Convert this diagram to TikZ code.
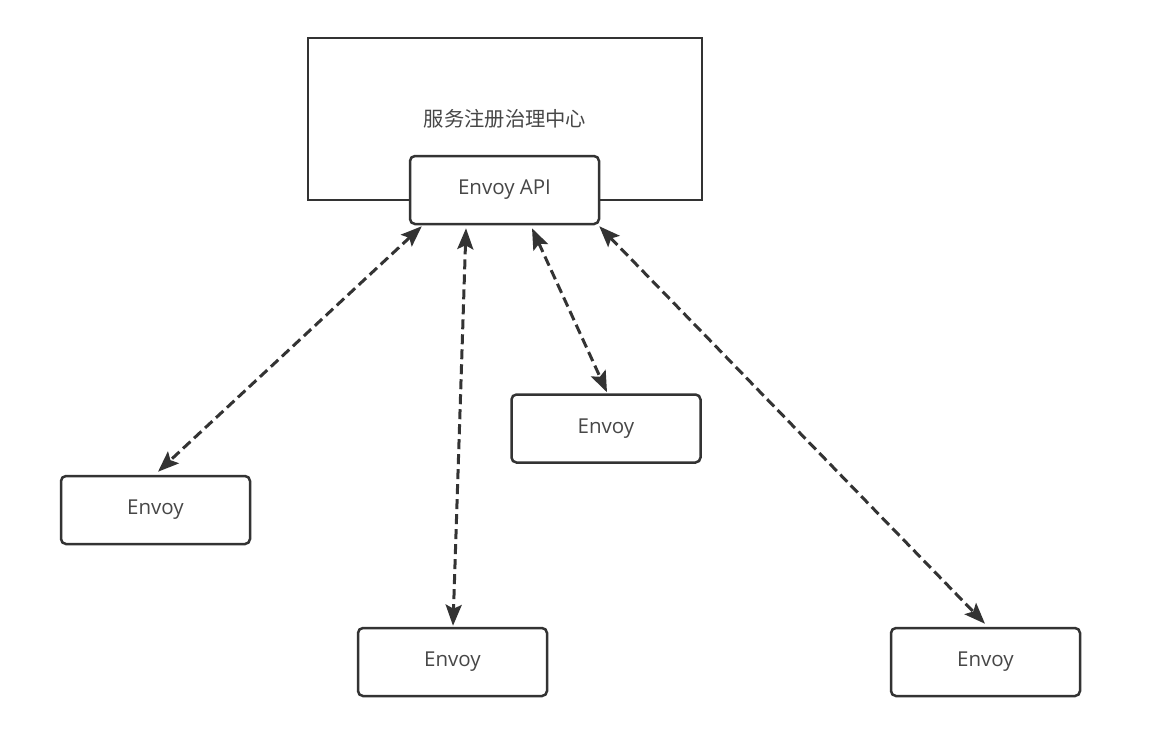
\documentclass[tikz,border=0pt]{standalone}
\usepackage{fontspec}
\setmainfont{Open Sans}
\newfontfamily\cjk{Noto Sans CJK SC}
\usetikzlibrary{arrows.meta}
\definecolor{ink}{HTML}{333333}
\tikzset{
  box/.style={draw=ink, line width=2.5pt, fill=white, minimum width=189pt, minimum height=68pt, rounded corners=5pt, inner sep=0pt, font=\fontsize{20.5}{22}\selectfont, text=ink!90},
  bigbox/.style={draw=ink, line width=2.5pt, fill=white, minimum width=394pt, minimum height=162pt, inner sep=0pt, font=\cjk\fontsize{20.3}{22}\selectfont, text=ink!90},
  link/.style={draw=ink, line width=3pt, dash pattern=on 10pt off 5pt, {Stealth[length=21pt,width=16pt,inset=4pt]}-{Stealth[length=21pt,width=16pt,inset=4pt]}, shorten >=0pt, shorten <=0pt}
}
\begin{document}
\begin{tikzpicture}[x=1pt,y=-1pt]
\useasboundingbox[fill=white] (0,0) rectangle (1176,750);
\node[bigbox] (center) at (505,119) {服务注册治理中心};
\node[box] (api) at (504.5,190) {Envoy API};
\node[box] (e1) at (155.5,510) {Envoy};
\node[box] (e2) at (452.5,662) {Envoy};
\node[box] (e3) at (606,428.5) {Envoy};
\node[box] (e4) at (985.5,662) {Envoy};
\draw[link] ([xshift=13pt,yshift=-1pt]api.south west) -- ([xshift=2.5pt,yshift=3pt]e1.north);
\draw[link] ([xshift=-38.5pt,yshift=-3pt]api.south) -- ([xshift=0.5pt,yshift=1pt]e2.north);
\draw[link] ([xshift=27.5pt,yshift=-3pt]api.south) -- ([xshift=1pt,yshift=1pt]e3.north);
\draw[link] ([xshift=-1pt,yshift=-1pt]api.south east) -- ([xshift=-0.5pt,yshift=3pt]e4.north);
\end{tikzpicture}
\end{document}
